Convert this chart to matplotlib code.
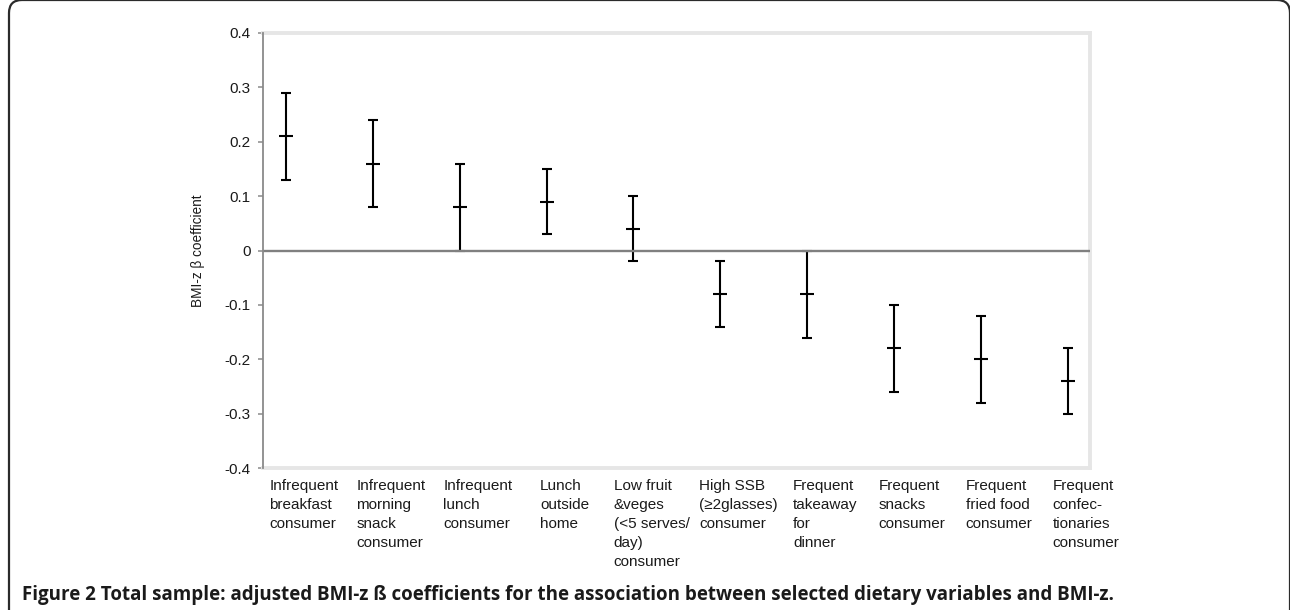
"""Figure 2: adjusted BMI-z beta coefficients by dietary variable."""

import matplotlib
matplotlib.use("Agg")
import matplotlib.pyplot as plt
from matplotlib.patches import FancyBboxPatch
from matplotlib.transforms import IdentityTransform
import numpy as np

categories = [
    "Infrequent\nbreakfast\nconsumer",
    "Infrequent\nmorning\nsnack\nconsumer",
    "Infrequent\nlunch\nconsumer",
    "Lunch\noutside\nhome",
    "Low fruit\n&veges\n(<5 serves/\nday)\nconsumer",
    "High SSB\n(\u22652glasses)\nconsumer",
    "Frequent\ntakeaway\nfor\ndinner",
    "Frequent\nsnacks\nconsumer",
    "Frequent\nfried food\nconsumer",
    "Frequent\nconfec-\ntionaries\nconsumer",
]
beta = [0.21, 0.16, 0.08, 0.09, 0.04, -0.08, -0.08, -0.18, -0.20, -0.24]
ci_low = [0.13, 0.08, 0.00, 0.03, -0.02, -0.14, -0.16, -0.26, -0.28, -0.30]
ci_high = [0.29, 0.24, 0.16, 0.15, 0.10, -0.02, 0.00, -0.10, -0.12, -0.18]
yticks = [-0.4, -0.3, -0.2, -0.1, 0.0, 0.1, 0.2, 0.3, 0.4]
ytick_labels = ["-0.4", "-0.3", "-0.2", "-0.1", "0", "0.1", "0.2", "0.3", "0.4"]
caption = ("Figure 2 Total sample: adjusted BMI-z \u00df coefficients for the association "
           "between selected dietary variables and BMI-z.")

plt.rcParams["font.family"] = ["Liberation Sans", "DejaVu Sans"]

W, H = 1290, 610
fig = plt.figure(figsize=(W / 100, H / 100), dpi=100)
fig.patch.set_facecolor("white")

# outer rounded frame of the journal figure
frame = FancyBboxPatch((9, -40), 1281, 650, boxstyle="round,pad=0,rounding_size=13",
                       transform=IdentityTransform(), fill=False,
                       edgecolor="#2b2b2b", linewidth=1.6)
fig.patches.append(frame)

ax = fig.add_axes([263 / W, 1 - 468 / H, (1090 - 263) / W, (468 - 33) / H])

x = np.arange(len(categories))
b = np.array(beta)
lo = np.array(ci_low)
hi = np.array(ci_high)
ax.errorbar(x, b, yerr=[b - lo, hi - b], fmt="none", ecolor="black",
            elinewidth=1.5, capsize=3.6, capthick=1.5, zorder=3)
ax.plot(x, b, linestyle="none", marker="_", markersize=10.5,
        markeredgewidth=1.5, color="black", zorder=4)
ax.axhline(0, color="#808080", linewidth=1.7, zorder=5)

ax.set_xlim(-0.265, len(categories) - 1 + 0.255)
ax.set_ylim(-0.4, 0.4)
ax.set_yticks(yticks)
ax.set_yticklabels(ytick_labels)
ax.set_xticks([])
ax.tick_params(axis="y", length=3.8, width=1.1, color="#8a8a8a", pad=5,
               labelsize=11, labelcolor="#1a1a1a")

for side in ["top", "right", "bottom"]:
    ax.spines[side].set_color("#e6e6e6")
    ax.spines[side].set_linewidth(2.8)
ax.spines["left"].set_color("#8a8a8a")
ax.spines["left"].set_linewidth(1.3)
ax.spines["left"].set_zorder(6)

ax.set_ylabel("BMI-z \u03b2 coefficient", fontsize=9.8, color="#1a1a1a")
ax.yaxis.set_label_coords(-(263 - 205) / (1090 - 263), 0.5)

for i, label in enumerate(categories):
    ax.annotate(label, xy=(i, 0), xycoords=("data", "axes fraction"),
                xytext=(18, -11), textcoords="offset pixels",
                ha="center", va="top", multialignment="left",
                fontsize=11, linespacing=1.46, color="#1a1a1a")

fig.text(22 / W, 10 / H, caption, ha="left", va="baseline", fontsize=13.5,
         fontweight="bold", color="#1a1a1a",
         family=["Open Sans", "DejaVu Sans"])

fig.savefig("out.png", dpi=100, facecolor="white")
